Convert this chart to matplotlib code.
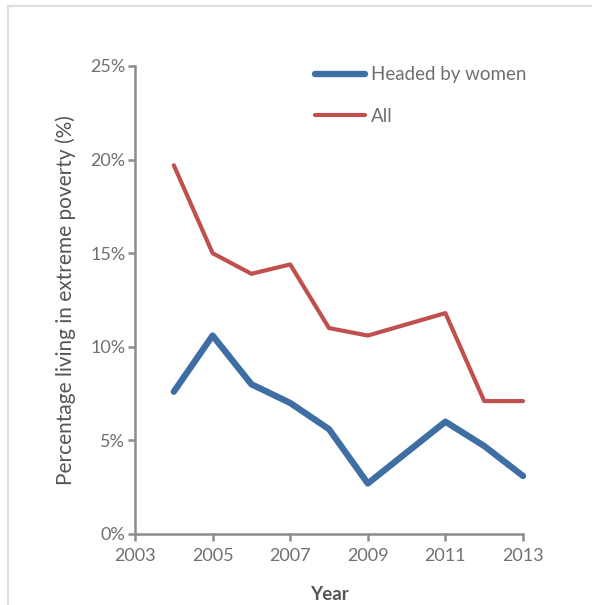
import matplotlib
matplotlib.use("Agg")
import matplotlib.pyplot as plt
from matplotlib.patches import Rectangle
from matplotlib.ticker import FuncFormatter

# data (percent)
years = [2004, 2005, 2006, 2007, 2008, 2009, 2011, 2012, 2013]
headed_by_women = [7.6, 10.6, 8.0, 7.0, 5.6, 2.7, 6.0, 4.7, 3.1]
all_households = [19.7, 15.0, 13.9, 14.4, 11.0, 10.6, 11.8, 7.1, 7.1]

x_ticks = [2003, 2005, 2007, 2009, 2011, 2013]
y_ticks = [0, 5, 10, 15, 20, 25]

BLUE = "#3e6ea4"
RED = "#c0504d"
AXIS_GREY = "#8c8c8c"
TEXT_GREY = "#707070"

plt.rcParams["font.family"] = ["Lato", "DejaVu Sans"]

fig = plt.figure(figsize=(5.92, 6.05), dpi=100)
# light frame around the figure
fig.patches.append(Rectangle((8 / 592, -0.05), 1.2, 1 - 6 / 605 + 0.05,
                             transform=fig.transFigure, fill=False,
                             edgecolor="#dddddd", linewidth=1.5))

ax = fig.add_axes([135 / 592, 1 - 534 / 605, (523 - 135) / 592, (534 - 66) / 605])

ax.plot(years, headed_by_women, color=BLUE, linewidth=4.6, label="Headed by women",
        solid_capstyle="round", solid_joinstyle="round", clip_on=False)
ax.plot(years, all_households, color=RED, linewidth=3.0, label="All",
        solid_capstyle="round", solid_joinstyle="round", clip_on=False)

ax.set_xlim(2003, 2013)
ax.set_ylim(0, 25)
ax.set_xticks(x_ticks)
ax.set_yticks(y_ticks)
ax.yaxis.set_major_formatter(FuncFormatter(lambda v, p: f"{v:.0f}%"))

for side in ["top", "right"]:
    ax.spines[side].set_visible(False)
for side in ["left", "bottom"]:
    ax.spines[side].set_color(AXIS_GREY)
    ax.spines[side].set_linewidth(1.8)

ax.tick_params(axis="both", direction="out", length=5, width=1.8, color=AXIS_GREY,
               labelcolor=TEXT_GREY, labelsize=13, pad=2)
ax.tick_params(axis="x", pad=5)

ax.set_xlabel("Year", fontsize=13.5, fontweight="bold", color="#555555", labelpad=16)
ax.set_ylabel("Percentage living in extreme poverty (%)", fontsize=15,
              color="#555555", labelpad=10)

leg = ax.legend(loc="upper left", bbox_to_anchor=(0.42, 1.035), frameon=False,
                fontsize=13.5, handlelength=2.7, handletextpad=0.3,
                labelspacing=1.3)
for t in leg.get_texts():
    t.set_color(TEXT_GREY)

fig.savefig("out.png", dpi=100)
